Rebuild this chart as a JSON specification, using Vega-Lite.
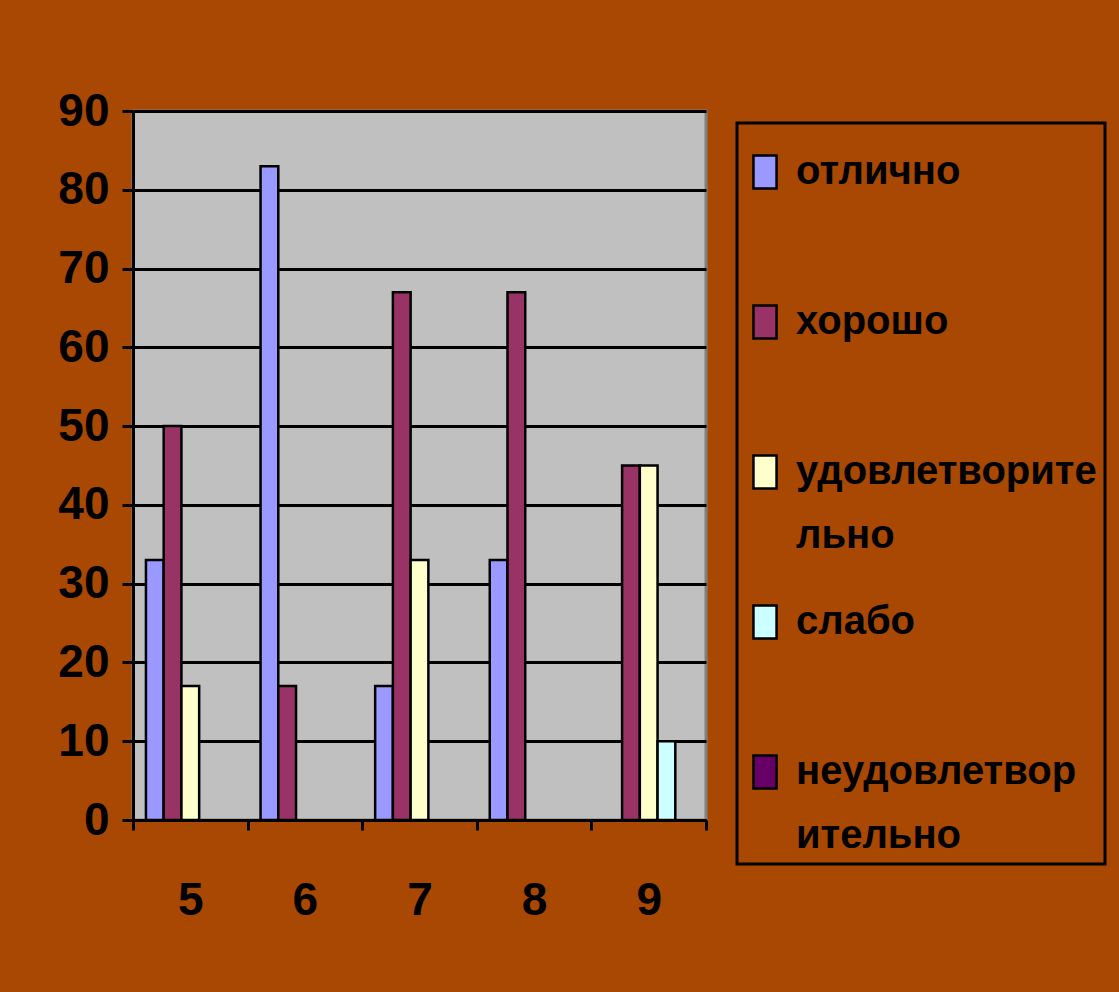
{
  "$schema": "https://vega.github.io/schema/vega-lite/v6.json",
  "width": 573,
  "height": 709,
  "autosize": {"type": "none"},
  "padding": {"left": 133, "top": 111, "right": 413, "bottom": 172},
  "background": "#A84802",
  "data": {
    "values": [
      {"grade": "5", "series": "отлично", "value": 33},
      {"grade": "5", "series": "хорошо", "value": 50},
      {"grade": "5", "series": "удовлетворительно", "value": 17},
      {"grade": "6", "series": "отлично", "value": 83},
      {"grade": "6", "series": "хорошо", "value": 17},
      {"grade": "7", "series": "отлично", "value": 17},
      {"grade": "7", "series": "хорошо", "value": 67},
      {"grade": "7", "series": "удовлетворительно", "value": 33},
      {"grade": "8", "series": "отлично", "value": 33},
      {"grade": "8", "series": "хорошо", "value": 67},
      {"grade": "9", "series": "хорошо", "value": 45},
      {"grade": "9", "series": "удовлетворительно", "value": 45},
      {"grade": "9", "series": "слабо", "value": 10}
    ]
  },
  "mark": {"type": "bar", "stroke": "black", "strokeWidth": 2.5},
  "encoding": {
    "x": {
      "field": "grade",
      "type": "nominal",
      "scale": {"domain": ["5", "6", "7", "8", "9"], "paddingInner": 0, "paddingOuter": 0},
      "axis": {
        "title": null,
        "labelAngle": 0,
        "tickBand": "extent",
        "domainColor": "black",
        "domainWidth": 3,
        "tickColor": "black",
        "tickWidth": 3,
        "tickSize": 10,
        "labelFont": "Liberation Sans",
        "labelFontSize": 46,
        "labelFontWeight": "bold",
        "labelColor": "black",
        "labelPadding": 48
      }
    },
    "xOffset": {
      "field": "series",
      "type": "nominal",
      "scale": {
        "domain": ["отлично", "хорошо", "удовлетворительно", "слабо", "неудовлетворительно"],
        "paddingInner": 0,
        "paddingOuter": 0.73
      }
    },
    "y": {
      "field": "value",
      "type": "quantitative",
      "scale": {"domain": [0, 90], "nice": false},
      "axis": {
        "title": null,
        "values": [0, 10, 20, 30, 40, 50, 60, 70, 80, 90],
        "domainColor": "black",
        "domainWidth": 3,
        "tickColor": "black",
        "tickWidth": 3,
        "tickSize": 11,
        "grid": true,
        "gridColor": "black",
        "gridWidth": 3,
        "gridOpacity": 1,
        "labelFont": "Liberation Sans",
        "labelFontSize": 46,
        "labelFontWeight": "bold",
        "labelColor": "black",
        "labelPadding": 13
      }
    },
    "color": {
      "field": "series",
      "type": "nominal",
      "scale": {
        "domain": ["отлично", "хорошо", "удовлетворительно", "слабо", "неудовлетворительно"],
        "range": ["#9999FF", "#993366", "#FFFFCC", "#CCFFFF", "#660066"]
      },
      "legend": {
        "title": " ",
        "titleFontSize": 11,
        "titlePadding": 10,
        "orient": "none",
        "legendX": 604,
        "legendY": 12,
        "padding": 8,
        "strokeColor": "black",
        "symbolType": "M-0.7,-1H0.7V1H-0.7Z",
        "symbolSize": 1089,
        "symbolStrokeColor": "black",
        "symbolStrokeWidth": 2.5,
        "symbolOpacity": 1,
        "labelFont": "Liberation Sans",
        "labelFontSize": 40,
        "labelFontWeight": "bold",
        "labelColor": "black",
        "labelLimit": 0,
        "labelOffset": 11,
        "labelBaseline": "middle",
        "rowPadding": 44,
        "labelExpr": "datum.label == 'удовлетворительно' ? ['удовлетворите', 'льно'] : datum.label == 'неудовлетворительно' ? ['неудовлетвор', 'ительно'] : [datum.label, '']",
        "encode": {
          "legend": {"update": {"strokeWidth": {"value": 3}}},
          "labels": {"update": {"lineHeight": {"value": 64}}}
        }
      }
    }
  },
  "config": {
    "view": {"fill": "#C0C0C0", "stroke": "#808080", "strokeWidth": 3}
  }
}
